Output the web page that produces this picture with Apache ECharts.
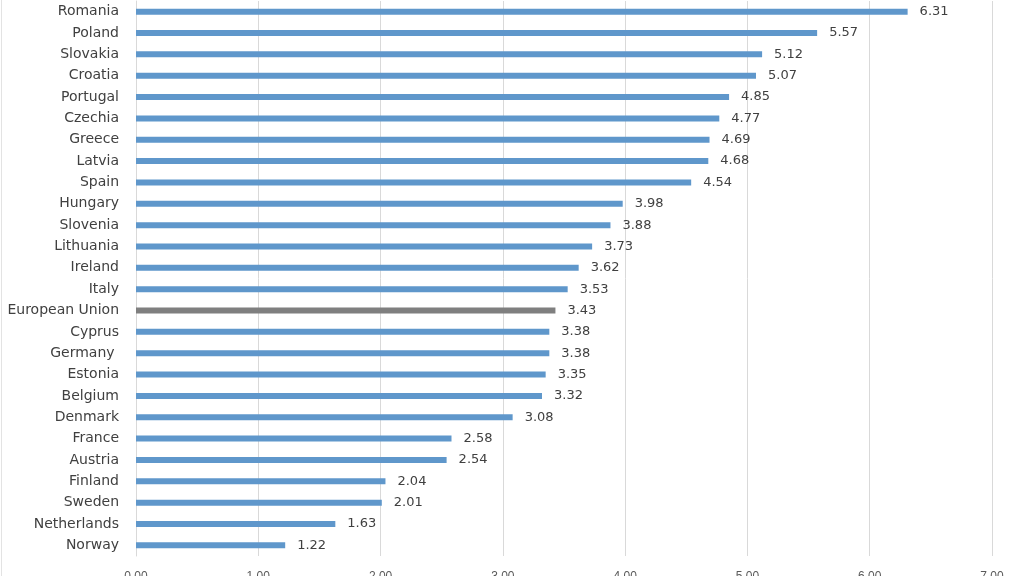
<!DOCTYPE html>
<html><head><meta charset="utf-8">
<script src="https://cdn.jsdelivr.net/npm/echarts@6/dist/echarts.min.js"></script>
<style>html,body{margin:0;padding:0;background:#fff}#c{width:1024px;height:576px}</style>
</head><body><div id="c"></div>
<script>
const categories = ["Romania","Poland","Slovakia","Croatia","Portugal","Czechia","Greece","Latvia","Spain","Hungary","Slovenia","Lithuania","Ireland","Italy","European Union","Cyprus","Germany ","Estonia","Belgium","Denmark","France","Austria","Finland","Sweden","Netherlands","Norway"];
const values = [6.31,5.57,5.12,5.07,4.85,4.77,4.69,4.68,4.54,3.98,3.88,3.73,3.62,3.53,3.43,3.38,3.38,3.35,3.32,3.08,2.58,2.54,2.04,2.01,1.63,1.22];
const highlight = "European Union";
const tickMin = 0, tickMax = 7, tickStep = 1;

const chart = echarts.init(document.getElementById('c'), null, {renderer:'canvas'});
chart.setOption({
  animation:false,
  backgroundColor:'#fff',
  graphic:[{type:'line', shape:{x1:1.5,y1:0,x2:1.5,y2:576}, style:{stroke:'#e3e3e3', lineWidth:1}}],
  grid:{left:136, right:32, top:1, bottom:20, containLabel:false, outerBoundsMode:'none'},
  xAxis:{type:'value', min:tickMin, max:tickMax, interval:tickStep,
    axisLine:{show:false}, axisTick:{show:false},
    splitLine:{lineStyle:{color:'#d9d9d9', width:1}},
    axisLabel:{formatter:v=>v.toFixed(2), color:'#595959', fontSize:12, fontFamily:'Liberation Sans Narrow, Arial Narrow, sans-serif', margin:15}},
  yAxis:{type:'category', data:categories, inverse:true,
    axisLine:{show:true, lineStyle:{color:'#d9d9d9'}}, axisTick:{show:false},
    axisLabel:{color:'#404040', fontSize:14, fontFamily:'DejaVu Sans, sans-serif', margin:17}},
  series:[{type:'bar', data:values.map((v,i)=>({value:v, itemStyle:{color: categories[i]===highlight ? '#7f7f7f' : '#5f97cb'}})),
    barWidth:6,
    label:{show:true, position:'right', distance:12, formatter:p=>p.value.toFixed(2), color:'#404040', fontSize:13, fontFamily:'DejaVu Sans, sans-serif'}}]
});
</script></body></html>
